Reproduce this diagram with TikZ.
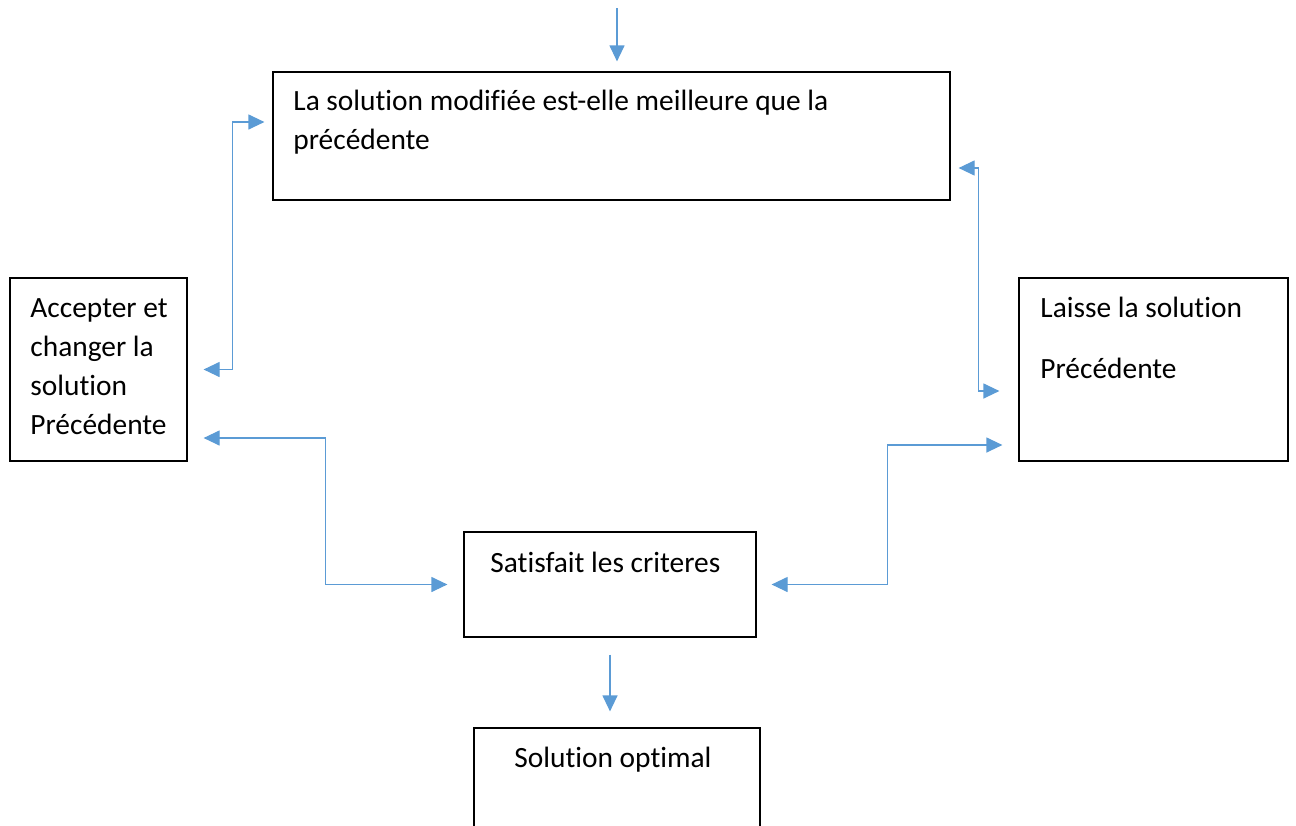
\documentclass[tikz,border=0pt]{standalone}
\usepackage{fontspec}
\setmainfont[Ligatures=NoCommon]{Carlito}
\usetikzlibrary{arrows.meta}
\begin{document}
\begin{tikzpicture}[x=0.5pt,y=-0.5pt,
 box/.style={draw=black,line width=0.6pt,inner sep=0pt},
 txt/.style={inner sep=0pt,anchor=base west,align=left,font=\fontsize{14.7}{19.5}\selectfont},
 link/.style={draw={rgb,255:red,91;green,155;blue,213},line width=0.6pt,
  >={Triangle[length=8pt,width=7.5pt]}}]
 \useasboundingbox (0,0) rectangle (1296,825);
 \node[box,minimum width=338.5pt,minimum height=64pt] (top) at (611.5,136) {};
 \node[box,minimum width=88.5pt,minimum height=91.5pt] (acc) at (98.5,369.5) {};
 \node[box,minimum width=134.5pt,minimum height=91.5pt] (lss) at (1153.5,369.5) {};
 \node[box,minimum width=146pt,minimum height=52.5pt] (sat) at (610,584.5) {};
 \node[box,minimum width=143pt,minimum height=55pt] (opt) at (617,783) {};
 \node[txt] at (293,149) {La solution modifiée est-elle meilleure que la\\précédente};
 \node[txt] at (30,434) {Accepter et\\changer la\\solution\\Précédente};
 \node[txt] at (1040,317) {Laisse la solution};
 \node[txt] at (1040,378) {Précédente};
 \node[txt] at (490,572) {Satisfait les criteres};
 \node[txt] at (514,767) {Solution optimal};
 \coordinate (in) at (617,8);
 \draw[link,->,shorten >=5pt] (in) -- (in |- top.north);
 \draw[link,<->,shorten <=8pt,shorten >=4pt] (acc.east) -- ++(45,0) |- ([yshift=7pt]top.west);
 \draw[link,<->,shorten <=4pt,shorten >=9.5pt] ([yshift=-16pt]top.east) -- ++(28,0) |- ([yshift=-10.75pt]lss.west);
 \draw[link,<->,shorten <=8pt,shorten >=8pt] ([yshift=-34.25pt]acc.east) -- ++(138,0) |- (sat.west);
 \draw[link,<->,shorten <=7.5pt,shorten >=8pt] (sat.east) -- ++(131,0) |- ([yshift=-37.75pt]lss.west);
 \draw[link,->,shorten <=8.5pt,shorten >=8pt] (sat.south) -- (sat.south |- opt.north);
\end{tikzpicture}
\end{document}
